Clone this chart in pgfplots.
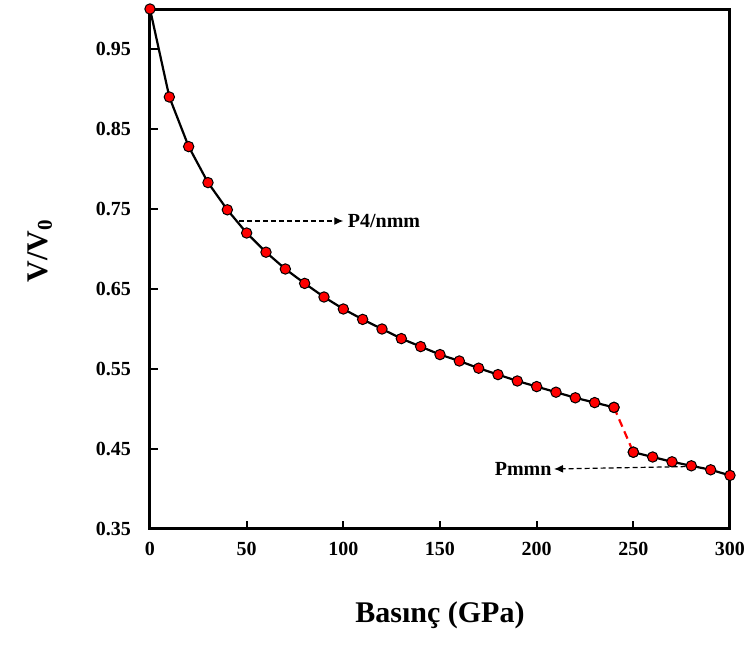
\documentclass[border=0pt]{standalone}
\usepackage{pgfplots}
\pgfplotsset{compat=1.18}
\usetikzlibrary{arrows.meta}
\usepackage{fontspec}
\setmainfont{Liberation Serif}
\begin{document}
\begin{tikzpicture}
\path[use as bounding box] (-75pt,-59pt) rectangle (298pt,264.5pt);
\begin{axis}[
  at={(0,0)}, anchor=south west,
  scale only axis=true,
  width=290pt, height=260pt,
  xmin=0, xmax=300, ymin=0.35, ymax=1.0,
  xtick={0,50,...,300},
  ytick={0.35,0.45,0.55,0.65,0.75,0.85,0.95},
  xtick pos=bottom, ytick pos=left,
  yticklabel style={/pgf/number format/fixed, /pgf/number format/fixed zerofill, /pgf/number format/precision=2, xshift=-6pt},
  tick align=inside,
  major tick length=4pt,
  axis line style={line width=1.5pt},
  tick style={line width=1pt, black},
  /pgf/number format/assume math mode=true,
  ticklabel style={font=\fontsize{10}{12}\selectfont\bfseries},
  xticklabel style={yshift=-3pt},
  xlabel={\fontsize{15}{18}\selectfont\bfseries Basınç (GPa)},
  ylabel={\fontsize{15}{18}\selectfont\bfseries V/V$_{\mathbf{0}}$},
  xlabel style={at={(axis description cs:0.5,0)}, anchor=center, yshift=-43pt},
  ylabel style={at={(axis description cs:0,0.535)}, anchor=center, yshift=55pt},
  clip=false,
]
\addplot[black, line width=1.1pt, mark=*, mark size=2.6pt,
  mark options={fill=red, draw=black, line width=0.5pt}] coordinates {
(0,1.000) (10,0.890) (20,0.828) (30,0.783) (40,0.749) (50,0.720)
(60,0.696) (70,0.675) (80,0.657) (90,0.640) (100,0.625) (110,0.612)
(120,0.600) (130,0.588) (140,0.578) (150,0.568) (160,0.560) (170,0.551)
(180,0.543) (190,0.535) (200,0.528) (210,0.521) (220,0.514) (230,0.508)
(240,0.502)
};
\addplot[red, line width=1.1pt, dash pattern=on 4pt off 2.5pt] coordinates {(240,0.502) (250,0.446)};
\addplot[black, line width=1.1pt, mark=*, mark size=2.6pt,
  mark options={fill=red, draw=black, line width=0.5pt}] coordinates {
(250,0.446) (260,0.440) (270,0.434) (280,0.429) (290,0.424) (300,0.417)
};
\addplot[red, only marks, mark=*, mark size=2.6pt,
  mark options={fill=red, draw=black, line width=0.5pt}] coordinates {(240,0.502) (250,0.446)};
\draw[-{Latex[length=4.5pt,width=4pt]}, dash pattern=on 2.5pt off 1.5pt, line width=0.6pt] (axis cs:46,0.735) -- (axis cs:100,0.735)
  node[right, font=\fontsize{10}{12}\selectfont\bfseries, inner sep=2pt] {P4/nmm};
\draw[-{Latex[length=4.5pt,width=4pt]}, dash pattern=on 2.5pt off 1.5pt, line width=0.6pt] (axis cs:277,0.428) -- (axis cs:209,0.425)
  node[left, font=\fontsize{10}{12}\selectfont\bfseries, inner sep=1pt] {Pmmn};
\end{axis}
\end{tikzpicture}
\end{document}
